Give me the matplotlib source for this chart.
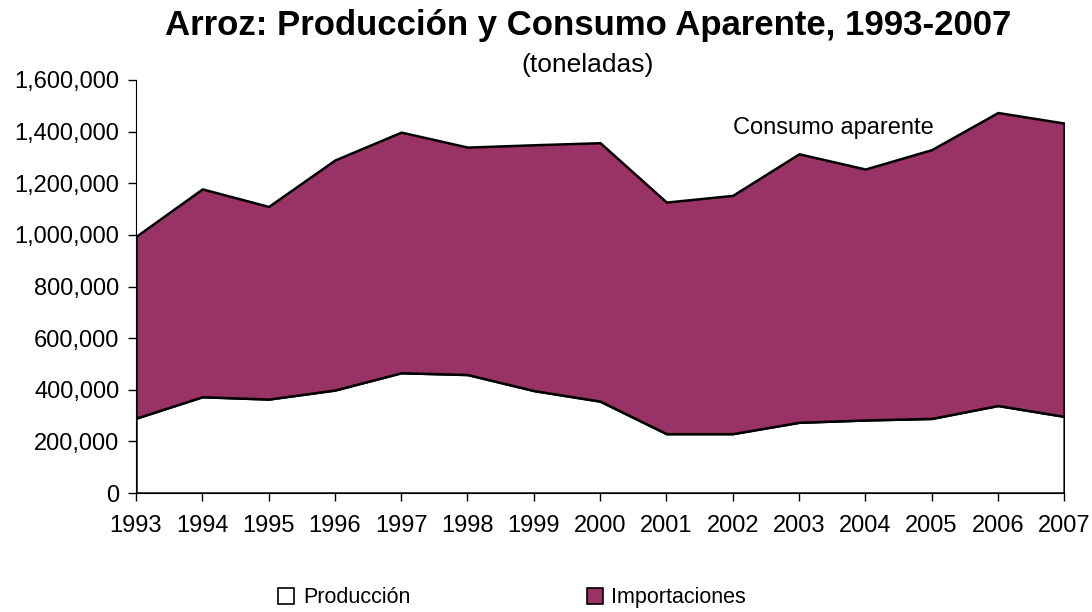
import matplotlib
matplotlib.use("Agg")
import matplotlib.pyplot as plt
from matplotlib.patches import Patch
from matplotlib.ticker import FuncFormatter, MultipleLocator

plt.rcParams['font.family'] = ['Liberation Sans', 'DejaVu Sans']

years = [1993, 1994, 1995, 1996, 1997, 1998, 1999, 2000,
         2001, 2002, 2003, 2004, 2005, 2006, 2007]
produccion = [290000, 373000, 364000, 399000, 466000, 459000, 397000, 356000,
              230000, 230000, 274000, 283000, 289000, 339000, 297000]
consumo_aparente = [994000, 1178000, 1110000, 1290000, 1398000, 1340000, 1349000, 1357000,
                    1127000, 1153000, 1314000, 1255000, 1330000, 1474000, 1433000]
importaciones = [c - p for c, p in zip(consumo_aparente, produccion)]

title = "Arroz: Producción y Consumo Aparente, 1993-2007"
subtitle = "(toneladas)"
series_labels = ["Producción", "Importaciones"]
annotation = "Consumo aparente"

purple = "#993366"

fig = plt.figure(figsize=(10.92, 6.12), dpi=100)
ax = fig.add_axes([0.1245, 0.1944, 0.85, 0.6749])

top = [p + i for p, i in zip(produccion, importaciones)]
ax.fill_between(years, 0, produccion, facecolor="white", edgecolor="black", linewidth=1.8, zorder=2)
ax.fill_between(years, produccion, top, facecolor=purple, edgecolor="black", linewidth=1.8, zorder=3)

ax.set_xlim(years[0], years[-1])
ax.set_ylim(0, 1600000)
ax.set_xticks(years)
ax.set_xticklabels([str(y) for y in years])
ax.yaxis.set_major_locator(MultipleLocator(200000))
ax.yaxis.set_major_formatter(FuncFormatter(lambda v, p: f"{int(v):,}"))

for s in ["top", "right"]:
    ax.spines[s].set_visible(False)
ax.spines["left"].set_color("black")
ax.spines["bottom"].set_color("black")
ax.spines["left"].set_zorder(5)
ax.spines["bottom"].set_zorder(5)
ax.tick_params(axis="both", labelsize=17, length=6, width=1, colors="black", direction="out")
ax.tick_params(axis="x", pad=10)
ax.tick_params(axis="y", pad=6)

ax.text(2002.0, 1415000, annotation, fontsize=17, ha="left", va="center", zorder=6)

fig.text(0.539, 0.958, title, fontsize=25, fontweight="bold", ha="center", va="center")
fig.text(0.538, 0.893, subtitle, fontsize=19, ha="center", va="center")

handles = [Patch(facecolor="white", edgecolor="black", linewidth=1.2),
           Patch(facecolor=purple, edgecolor="black", linewidth=1.2)]
fig.legend(handles, series_labels, loc="center", bbox_to_anchor=(0.469, 0.023), ncol=2,
           frameon=False, fontsize=15.5, handlelength=0.75, handleheight=0.75,
           handletextpad=0.4, columnspacing=8.2)

fig.savefig("out.png", dpi=100)
